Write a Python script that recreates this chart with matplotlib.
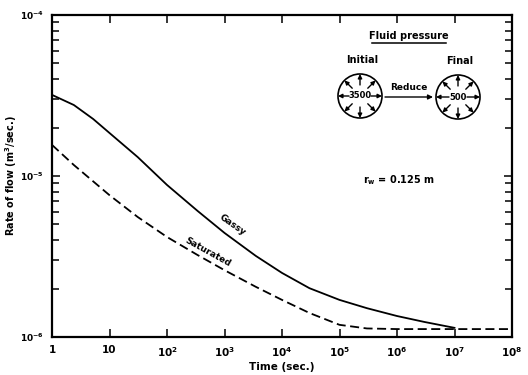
import numpy as np
import matplotlib
matplotlib.use("Agg")
import matplotlib.pyplot as plt
from matplotlib.patches import Circle
from matplotlib.ticker import FixedLocator, FixedFormatter, LogLocator, NullFormatter, NullLocator

plt.rcParams['font.family'] = 'DejaVu Sans'
plt.rcParams['font.weight'] = 'bold'
plt.rcParams['mathtext.fontset'] = 'dejavusans'
plt.rcParams['mathtext.default'] = 'bf'

#######################################
# DATA
#######################################
t_gassy = [1, 2.4, 5.2, 10, 31, 100, 340, 1e3, 3.5e3, 1e4, 3e4, 1e5, 3e5, 1e6, 3e6, 1e7]
q_gassy = [3.19e-5, 2.76e-5, 2.26e-5, 1.85e-5, 1.31e-5, 8.8e-6, 6.07e-6, 4.43e-6,
           3.19e-6, 2.50e-6, 2.01e-6, 1.70e-6, 1.51e-6, 1.35e-6, 1.24e-6, 1.14e-6]

t_sat = [1, 2.4, 10, 31, 100, 340, 1e3, 3.5e3, 1e4, 3e4, 1e5, 3e5, 1e6, 1e7, 1e8]
q_sat = [1.56e-5, 1.17e-5, 7.6e-6, 5.56e-6, 4.18e-6, 3.23e-6, 2.60e-6, 2.05e-6,
         1.70e-6, 1.41e-6, 1.19e-6, 1.13e-6, 1.12e-6, 1.12e-6, 1.12e-6]

x_ticks = [1, 10, 1e2, 1e3, 1e4, 1e5, 1e6, 1e7, 1e8]
x_ticklabels = ['1', '10', '$10^2$', '$10^3$', '$10^4$', '$10^5$', '$10^6$', '$10^7$', '$10^8$']
y_ticks = [1e-6, 1e-5, 1e-4]
y_ticklabels = ['$10^{-6}$', '$10^{-5}$', '$10^{-4}$']

p_initial = '3500'
p_final = '500'

#######################################
# MAIN PLOT
#######################################
W, H = 528, 375
fig = plt.figure(figsize=(W / 100, H / 100), dpi=100)
ax = fig.add_axes([52 / W, 1 - 337 / H, 460 / W, 322 / H])

ax.plot(t_gassy, q_gassy, color='k', lw=1.3)
ax.plot(t_sat, q_sat, color='k', lw=1.3, linestyle=(0, (5, 2.5)))

ax.set_xscale('log')
ax.set_yscale('log')
ax.set_xlim(1, 1e8)
ax.set_ylim(1e-6, 1e-4)

ax.xaxis.set_major_locator(FixedLocator(x_ticks))
ax.xaxis.set_major_formatter(FixedFormatter(x_ticklabels))
ax.xaxis.set_minor_locator(NullLocator())
ax.yaxis.set_major_locator(FixedLocator(y_ticks))
ax.yaxis.set_major_formatter(FixedFormatter(y_ticklabels))
ax.yaxis.set_minor_locator(LogLocator(base=10, subs=np.arange(2, 10)))
ax.yaxis.set_minor_formatter(NullFormatter())

ax.tick_params(which='both', direction='in', top=True, right=True, width=1.1)
ax.tick_params(axis='x', labelsize=7.5)
ax.tick_params(axis='y', labelsize=6.5)
ax.tick_params(which='major', length=6, pad=6)
ax.tick_params(which='minor', length=5)
for s in ax.spines.values():
    s.set_linewidth(1.6)

ax.set_xlabel('Time (sec.)', fontsize=7.5, fontweight='bold', labelpad=2)
ax.set_ylabel('Rate of flow (m$^3$/sec.)', fontsize=7, fontweight='bold')
ax.yaxis.set_label_coords(-0.072, 0.5)

#######################################
# INSET SKETCH (pixel coords overlay)
#######################################
ov = fig.add_axes([0, 0, 1, 1], zorder=5)
ov.set_xlim(0, W)
ov.set_ylim(H, 0)
ov.axis('off')
ov.patch.set_visible(False)

ov.text(409, 36, 'Fluid pressure', ha='center', va='center', fontsize=7)
ov.plot([372, 446], [43, 43], color='k', lw=1.1)
ov.text(362, 60, 'Initial', ha='center', va='center', fontsize=7)
ov.text(460, 61, 'Final', ha='center', va='center', fontsize=7)


def gauge(cx, cy, R, label, half):
    ov.add_patch(Circle((cx, cy), R, fill=False, lw=1.2, color='k'))
    ov.text(cx, cy, label, ha='center', va='center', fontsize=6)
    for ang in np.arange(0, 360, 45):
        a = np.deg2rad(ang)
        r0 = half if ang in (0, 180) else 0.5 * R
        ov.annotate('', xy=(cx + R * np.cos(a), cy - R * np.sin(a)),
                    xytext=(cx + r0 * np.cos(a), cy - r0 * np.sin(a)),
                    arrowprops=dict(arrowstyle='-|>', lw=1.0, color='k',
                                    mutation_scale=6, shrinkA=0, shrinkB=0))


gauge(360, 96, 22, p_initial, 11)
gauge(458, 97, 22, p_final, 9)

ov.annotate('', xy=(433, 97), xytext=(385, 97),
            arrowprops=dict(arrowstyle='-|>', lw=1.0, color='k',
                            mutation_scale=7, shrinkA=0, shrinkB=0))
ov.text(409, 88, 'Reduce', ha='center', va='center', fontsize=6.5)

ov.text(399, 180, 'r$_w$ = 0.125 m', ha='center', va='center', fontsize=7)

ov.text(232, 225, 'Gassy', ha='center', va='center', fontsize=6.5, rotation=-35)
ov.text(208, 252, 'Saturated', ha='center', va='center', fontsize=6.5, rotation=-29)

plt.savefig('out.png', dpi=100)
